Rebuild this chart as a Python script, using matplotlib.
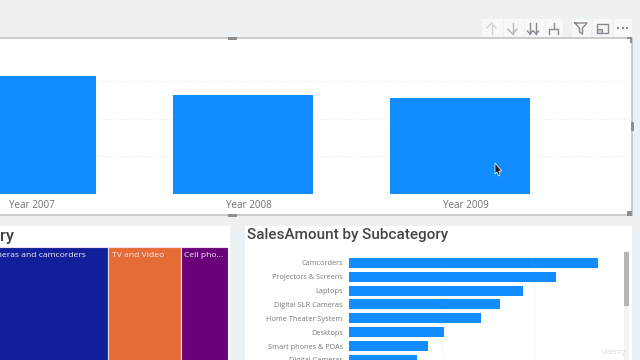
import matplotlib
matplotlib.use("Agg")
import matplotlib.pyplot as plt
from matplotlib.patches import Rectangle
from matplotlib.transforms import ScaledTranslation

plt.rcParams['font.family'] = ['Open Sans', 'DejaVu Sans']

# ---- data ----
years = ["Year 2007", "Year 2008", "Year 2009"]
year_sales = [3.13, 2.63, 2.55]

treemap_labels = ["Cameras and camcorders", "TV and Video", "Cell pho..."]
treemap_values = [127.5, 72.5, 47]
treemap_colors = ["#11209A", "#E56C37", "#6B007B"]

subcats = ["Camcorders", "Projectors & Screens", "Laptops", "Digital SLR Cameras",
           "Home Theater System", "Desktops", "Smart phones & PDAs", "Digital Cameras"]
subcat_sales = [249, 207, 174, 151, 132, 95, 79, 68]

W, H = 640, 360
BG = "#EDF1F4"
BLUE = "#118DFF"
fig = plt.figure(figsize=(6.4, 3.6), dpi=100, facecolor=BG)


def axes_px(x0, y0, x1, y1, **kw):
    """Axes from pixel box, y measured from the top."""
    return fig.add_axes([x0 / W, 1 - y1 / H, (x1 - x0) / W, (y1 - y0) / H], **kw)


# chrome layer (panels, handles, toolbar)
bg = axes_px(0, 0, W, H, zorder=0)
bg.set_xlim(0, W); bg.set_ylim(H, 0); bg.axis("off")
bg.add_patch(Rectangle((-2, 38), 634, 177, fc="white", ec="#C4C4C4", lw=1.2))
bg.add_patch(Rectangle((-2, 226), 232, 140, fc="white", ec="none"))
bg.add_patch(Rectangle((245, 226), 387, 140, fc="white", ec="none"))
for (x, y, w, h) in [(228, 36.5, 9, 3), (228, 213.5, 9, 3), (630.5, 122, 3, 9), (627, 211, 5, 5)]:
    bg.add_patch(Rectangle((x, y), w, h, fc="#8E8E8E", ec="none"))
bg.add_patch(Rectangle((627, 37), 5, 2, fc="#8E8E8E", ec="none"))
bg.add_patch(Rectangle((630, 37), 2, 6, fc="#8E8E8E", ec="none"))
# toolbar
for x0, x1 in [(482, 503), (504, 524), (525, 545), (546, 563), (572, 591), (593, 612), (614, 632)]:
    bg.add_patch(Rectangle((x0, 19), x1 - x0, 18, fc="#F6F8FA", ec="none"))
ic = "#B9B4BC"
bg.plot([491.5, 491.5], [23, 34], color="#D4D2D6", lw=1)
bg.plot([487, 491.5, 496], [28, 23, 28], color="#D4D2D6", lw=1)
bg.plot([512.5, 512.5], [23, 34], color=ic, lw=1)
bg.plot([508, 512.5, 517], [29, 34, 29], color=ic, lw=1)
for x in (530, 536):
    bg.plot([x, x], [23, 34], color="#8D8791", lw=1)
    bg.plot([x - 2.5, x, x + 2.5], [31, 34, 31], color="#8D8791", lw=1)
bg.plot([553.5, 553.5], [23, 29], color="#8D8791", lw=1)
bg.plot([549, 549, 558, 558], [34, 29, 29, 34], color="#8D8791", lw=1)
bg.plot([575, 587, 582.5, 582.5, 579.5, 579.5, 575], [23, 23, 28, 34, 32, 28, 23], color="#8D8791", lw=1)
bg.add_patch(Rectangle((597, 24), 11, 9, fc="none", ec="#8D8791", lw=1))
bg.add_patch(Rectangle((597, 29), 5, 4, fc="#C8C5CA", ec="#8D8791", lw=0.8))
for x in (618, 622.5, 627):
    bg.add_patch(Rectangle((x - 1, 27), 2, 2, fc="#8D8791", ec="none"))

# top column chart: axes spans the visible part of the plot
ax = axes_px(0, 38, 632, 194, zorder=1)
ax.patch.set_alpha(0)
slot = 217
ax.set_xlim(-26 / slot, (632 - 26) / slot)
ax.set_ylim(0, 156 / 37.7)
ax.bar(range(3), year_sales, width=140 / slot, color=BLUE, zorder=2)
ax.set_xticks(range(3), years)
ax.set_yticks([1, 2, 3])
ax.tick_params(length=0, labelleft=False, axis="both", pad=4)
ax.tick_params(axis="x", labelsize=7.1, labelcolor="#6F6F6F")
for lab in ax.get_xticklabels():
    lab.set_transform(lab.get_transform() + ScaledTranslation(6 / 100, 0, fig.dpi_scale_trans))
ax.grid(axis="y", color="#E8E8E8", lw=0.8, ls=(0, (1, 2)))
for s in ax.spines.values():
    s.set_visible(False)

# treemap
tm = axes_px(-19.5, 247, 228, 366, zorder=1)
tm.set_xlim(0, sum(treemap_values)); tm.set_ylim(0, 1); tm.axis("off")
left = 0
for lab, val, col in zip(treemap_labels, treemap_values, treemap_colors):
    tm.barh(0.5, val, left=left, height=1, color=col, ec="#F3DDF0", lw=0.8)
    tm.annotate(lab, (left, 1), xytext=(2.5, -3.7), textcoords="offset points",
                color="#F1EEF4", fontsize=6.1, va="top", ha="left", annotation_clip=False)
    left += val
bg.text(0, 236, "ry", fontsize=12, color="#3F3F3F", va="center", ha="left",
        family=["Roboto", "DejaVu Sans"], zorder=3, fontweight="medium")

# right bar chart
rb = axes_px(349, 256, 632, 366, zorder=1)
rb.patch.set_alpha(0)
n_view = 110 / 13.85
rb.set_ylim(n_view - 0.5, -0.5)
rb.set_xlim(0, 283)
rb.barh(range(len(subcats)), subcat_sales, height=0.72, color=BLUE, zorder=2)
rb.set_yticks(range(len(subcats)), subcats)
rb.set_xticks([93, 186])
rb.tick_params(length=0, labelbottom=False)
rb.tick_params(axis="y", labelsize=5.3, labelcolor="#7A7A7A", pad=4.5)
rb.grid(axis="x", color="#E8E8E8", lw=0.8, ls=(0, (1, 2)))
for s in rb.spines.values():
    s.set_visible(False)

bg.text(247, 235.5, "SalesAmount by Subcategory", fontsize=11, color="#454545",
        va="center", ha="left", family=["Roboto", "DejaVu Sans"], fontweight="medium")

# scrollbar + cursor + watermark above everything
top = axes_px(0, 0, W, H, zorder=5)
top.set_xlim(0, W); top.set_ylim(H, 0); top.axis("off"); top.patch.set_alpha(0)
top.add_patch(Rectangle((624, 251), 5, 110, fc="#F4F4F4", ec="none"))
top.add_patch(Rectangle((624, 252), 5, 54, fc="#B5B5B5", ec="none"))
top.fill([495, 495, 497, 498.5, 500, 499, 502], [163, 174, 172, 176, 175, 171, 171],
         fc="#222222", ec="white", lw=0.5)
top.text(613, 353, "Udemy", fontsize=5.5, color="#D8D8D8", va="center", ha="center")

fig.savefig("out.png", dpi=100, facecolor=BG)
